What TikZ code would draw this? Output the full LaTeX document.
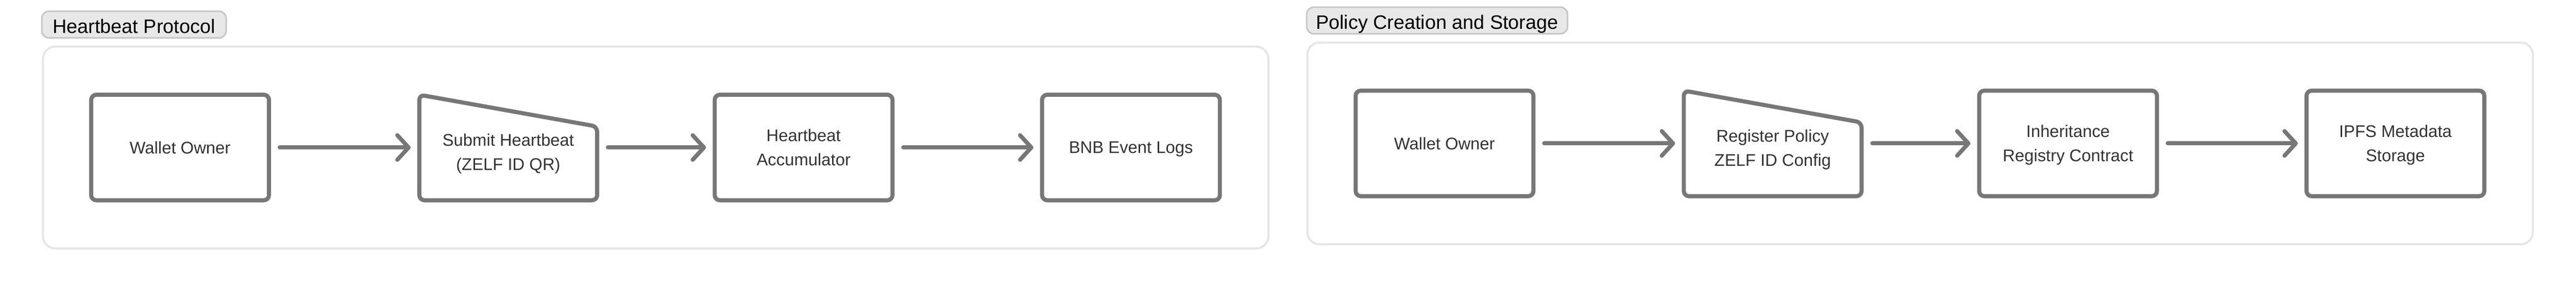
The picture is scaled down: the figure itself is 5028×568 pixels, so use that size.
\documentclass[tikz,border=0pt]{standalone}
\usepackage{fontspec}
\setmainfont{Liberation Sans}
\usetikzlibrary{arrows.meta,calc}
\definecolor{edgegray}{HTML}{777777}
\definecolor{txtgray}{HTML}{333333}
\definecolor{contgray}{HTML}{E5E5E5}
\definecolor{tagfill}{HTML}{E8E8E8}
\definecolor{tagline}{HTML}{C6C6C6}
\newcommand\myboxfont{\fontsize{33}{47.5}\selectfont}
\newcommand\mytagfont{\fontsize{38}{46}\selectfont}
\tikzset{
  box/.style={draw=edgegray, line width=8pt, rounded corners=10pt, fill=white,
    minimum width=347pt, minimum height=206pt, inner sep=0pt, outer sep=0pt,
    font=\myboxfont, text=txtgray, align=center, text depth=0pt},
  shapeonly/.style={minimum width=347pt, minimum height=206pt, inner sep=0pt, outer sep=0pt},
  trapline/.style={draw=edgegray, line width=8pt, rounded corners=10pt, fill=white, line join=round},
  txt/.style={font=\myboxfont, text=txtgray, align=center, inner sep=0pt, text depth=0pt},
  flow/.style={draw=edgegray, line width=8pt, line cap=round,
    -{Straight Barb[length=22pt,width=48pt,round]}, shorten <=21pt, shorten >=17pt},
  container/.style={draw=contgray, line width=4pt, rounded corners=24pt,
    minimum width=2392pt, minimum height=394pt, inner sep=0pt, outer sep=0pt},
  tag/.style={draw=tagline, fill=tagfill, line width=3pt, rounded corners=14pt,
    text height=43pt, text depth=9pt, inner ysep=0pt, inner xsep=18pt, anchor=base,
    font=\mytagfont, text=black}
}
\begin{document}
\begin{tikzpicture}[x=1pt,y=-1pt]
\useasboundingbox (0,0) rectangle (5028,568);
\fill[white] (0,0) rectangle (5028,568);

% ---------- Section 1: Heartbeat Protocol ----------
\node[container] (c1) at (1279.75,288) {};
\node[tag, minimum width=360pt] (tag1) at (261.5,65) {Heartbeat Protocol};

\node[box] (w1) at (351.5,288) {Wallet Owner};
\node[shapeonly] (t1) at (992,288) {};
\draw[trapline] (t1.south) -- (t1.south west) -- (t1.north west)
  -- ($(t1.north east)+(0,62)$) -- (t1.south east) -- cycle;
\node[txt] (t1txt) at ($(t1.center)+(0,9)$) {Submit Heartbeat\\(ZELF ID QR)};
\node[box] (a1) at (1568.5,288) {Heartbeat\\Accumulator};
\node[box] (b1) at (2207.5,288) {BNB Event Logs};

\draw[flow] (w1.east) -- (t1.west);
\draw[flow] (t1.east) -- (a1.west);
\draw[flow] (a1.east) -- (b1.west);

% ---------- Section 2: Policy Creation and Storage ----------
\node[container] (c2) at (3747.75,280) {};
\node[tag, minimum width=509pt] (tag2) at (2805,57) {Policy Creation and Storage};

\node[box] (w2) at (2819.5,280) {Wallet Owner};
\node[shapeonly] (t2) at (3460,280) {};
\draw[trapline] (t2.south) -- (t2.south west) -- (t2.north west)
  -- ($(t2.north east)+(0,62)$) -- (t2.south east) -- cycle;
\node[txt] (t2txt) at ($(t2.center)+(0,9)$) {Register Policy\\ZELF ID Config};
\node[box] (r2) at (4036.5,280) {Inheritance\\Registry Contract};
\node[box] (i2) at (4675.5,280) {IPFS Metadata\\Storage};

\draw[flow] (w2.east) -- (t2.west);
\draw[flow] (t2.east) -- (r2.west);
\draw[flow] (r2.east) -- (i2.west);
\end{tikzpicture}
\end{document}
